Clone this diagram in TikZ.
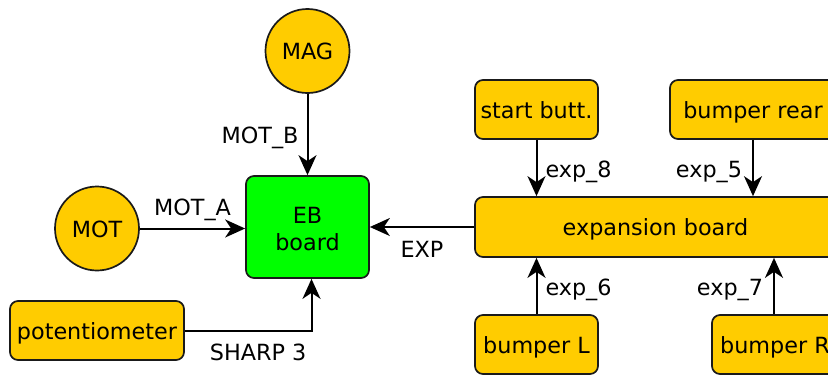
\documentclass[tikz,border=0pt]{standalone}
\usepackage{fontspec}
\setmainfont{DejaVu Sans}
\usetikzlibrary{arrows.meta}
\definecolor{partyellow}{HTML}{FFCC00}
\definecolor{boardgreen}{HTML}{00FF00}
\definecolor{edgegray}{HTML}{1A1A1A}
\begin{document}
\begin{tikzpicture}[x=1pt,y=-1pt,
  every node/.style={font=\fontsize{22.3}{27}\selectfont, inner sep=0pt,
    text height=17pt, text depth=0pt},
  part/.style={draw=edgegray, line width=1.7pt, fill=partyellow,
    rounded corners=8pt, minimum height=59pt},
  sensor/.style={circle, draw=edgegray, line width=1.7pt, fill=partyellow,
    minimum size=84pt},
  board/.style={draw=edgegray, line width=1.7pt, fill=boardgreen,
    rounded corners=8pt, minimum width=123pt, minimum height=102pt,
    align=center, text height=46pt},
  link/.style={draw=black, line width=2pt,
    -{Stealth[length=20pt, width=18pt, inset=6pt]}},
]
\useasboundingbox (0,0) rectangle (828,376);

% sensors and boards
\node[sensor] (mag) at (307.5,51) {MAG};
\node[sensor] (mot) at (97,228.5) {MOT};
\node[board] (eb) at (307.5,227) {EB\\board};
\node[part, minimum width=174pt] (pot) at (97,330.5) {potentiometer};
\node[part, minimum width=123pt] (start) at (536.5,109.5) {start butt.};
\node[part, minimum width=166pt] (rear) at (753,109.5) {bumper rear};
\node[part, minimum width=361pt, minimum height=60pt] (exp) at (655.5,227) {expansion board};
\node[part, minimum width=123pt] (bl) at (536.5,344.5) {bumper L};
\node[part, minimum width=126pt] (brt) at (775,344.5) {bumper R};

% connections to the EB board
\draw[link] (mag) -- (mag |- eb.north)
  node[midway, anchor=base east, xshift=-8pt, yshift=-8.5pt] {MOT\_B};
\draw[link] (mot) -- (mot -| eb.west)
  node[midway, anchor=base, yshift=13pt] {MOT\_A};
\draw[link] (pot.east) -| ([xshift=4pt]eb.south)
  node[pos=0, anchor=base west, xshift=24pt, yshift=-30pt] {SHARP 3};
\draw[link] (exp.west) -- (exp.west -| eb.east)
  node[midway, anchor=base, yshift=-30pt] {EXP};

% connections to the expansion board
\draw[link] (start) -- (start |- exp.north)
  node[midway, anchor=base west, xshift=8pt, yshift=-9pt] {exp\_8};
\draw[link] (rear) -- (rear |- exp.north)
  node[midway, anchor=base east, xshift=-10pt, yshift=-9pt] {exp\_5};
\draw[link] (bl) -- (bl |- exp.south)
  node[midway, anchor=base west, xshift=8pt, yshift=-9pt] {exp\_6};
\draw[link] ([xshift=-1pt]brt.north) -- ([xshift=-1pt]brt.north |- exp.south)
  node[midway, anchor=base east, xshift=-10pt, yshift=-9pt] {exp\_7};
\end{tikzpicture}
\end{document}
